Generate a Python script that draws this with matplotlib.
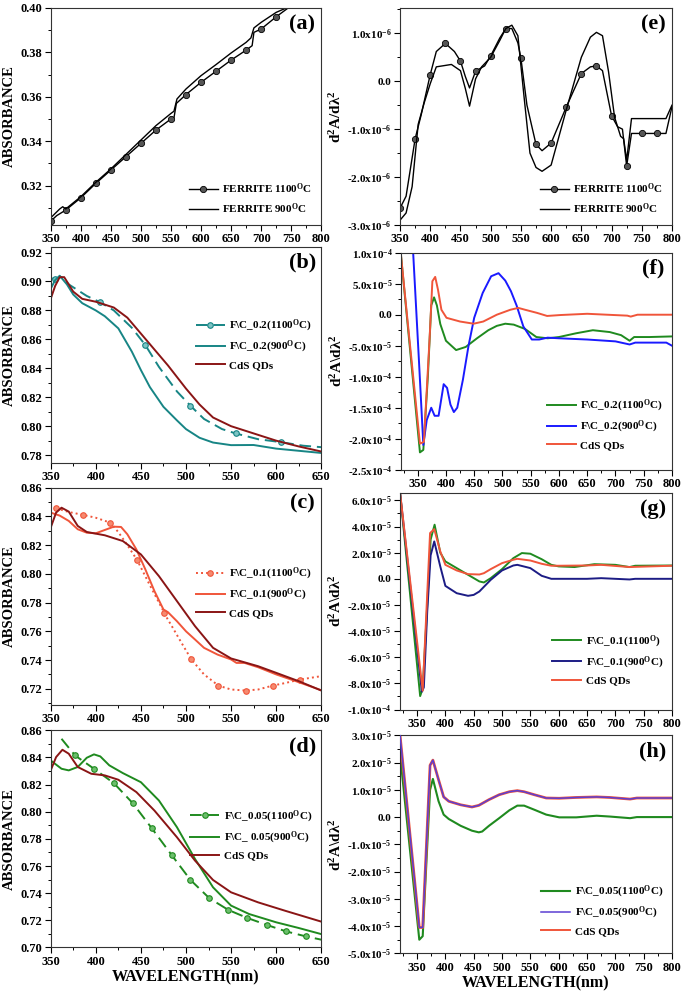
import numpy as np
import matplotlib
matplotlib.use('Agg')
import matplotlib.pyplot as plt
from matplotlib.ticker import MultipleLocator, FixedLocator, FixedFormatter, FormatStrFormatter

plt.rcParams['font.family'] = ['Liberation Serif', 'DejaVu Serif']
plt.rcParams['font.weight'] = 'bold'
plt.rcParams['axes.labelweight'] = 'bold'
plt.rcParams['mathtext.fontset'] = 'custom'
plt.rcParams['mathtext.rm'] = 'Liberation Serif:bold'
plt.rcParams['mathtext.bf'] = 'Liberation Serif:bold'
plt.rcParams['mathtext.it'] = 'Liberation Serif:bold'
plt.rcParams['mathtext.default'] = 'bf'

# ---------------- DATA ----------------
# (a) absorbance, ferrite
a_x_1100 = [350, 360, 375, 400, 425, 450, 475, 500, 525, 550, 555, 559, 575, 600, 625, 650, 675, 685, 688, 700, 725, 745]
a_y_1100 = [0.304, 0.3065, 0.309, 0.3145, 0.321, 0.327, 0.333, 0.339, 0.345, 0.350, 0.3505, 0.357, 0.361, 0.3665, 0.3715, 0.3765, 0.381, 0.383, 0.389, 0.3905, 0.396, 0.400]
a_mark_1100 = [350, 375, 400, 425, 450, 475, 500, 525, 550, 575, 600, 625, 650, 675, 700, 725]
a_x_900 = [350, 365, 370, 375, 400, 425, 450, 475, 500, 525, 550, 555, 560, 575, 600, 625, 650, 675, 683, 688, 700, 725, 742]
a_y_900 = [0.3055, 0.3095, 0.3105, 0.3095, 0.315, 0.3215, 0.3275, 0.334, 0.3405, 0.347, 0.3525, 0.3535, 0.359, 0.3635, 0.3695, 0.3745, 0.3797, 0.3845, 0.3865, 0.391, 0.3935, 0.398, 0.400]

# (e) second derivative, ferrite (units 1e-6)
e_x_1100 = [350, 360, 375, 385, 400, 410, 425, 440, 450, 458, 465, 475, 490, 500, 515, 525, 535, 545, 550, 560, 575, 585, 600, 625, 650, 665, 675, 685, 700, 710, 718, 725, 733, 750, 775, 790, 800]
e_y_1100 = [-2.65, -2.4, -1.2, -0.7, 0.14, 0.62, 0.79, 0.62, 0.42, 0.1, -0.14, 0.21, 0.32, 0.53, 0.9, 1.1, 1.1, 0.8, 0.48, -0.5, -1.32, -1.45, -1.29, -0.54, 0.16, 0.3, 0.32, 0.22, -0.72, -0.95, -1.0, -1.77, -1.09, -1.09, -1.09, -1.09, -0.53]
e_mark_1100 = [350, 375, 400, 425, 450, 475, 500, 525, 550, 575, 600, 625, 650, 675, 700, 725, 750, 775]
e_x_900 = [350, 360, 370, 380, 390, 400, 410, 425, 435, 450, 458, 465, 475, 485, 500, 515, 525, 535, 545, 555, 565, 575, 585, 600, 625, 650, 665, 675, 685, 695, 705, 715, 720, 725, 733, 790, 800]
e_y_900 = [-2.9, -2.75, -2.2, -0.9, -0.45, -0.05, 0.3, 0.33, 0.35, 0.22, -0.15, -0.52, 0.05, 0.3, 0.5, 0.85, 1.1, 1.17, 0.95, -0.3, -1.5, -1.8, -1.88, -1.75, -0.6, 0.5, 0.92, 1.02, 0.95, 0.2, -0.75, -1.15, -1.2, -1.65, -0.78, -0.78, -0.5]

# (b) absorbance, F\C_0.2
b_x_1100 = [350, 355, 362, 370, 380, 390, 405, 420, 440, 455, 470, 490, 505, 520, 540, 555, 580, 605, 630, 650]
b_y_1100 = [0.902, 0.902, 0.903, 0.898, 0.894, 0.890, 0.8856, 0.880, 0.868, 0.856, 0.841, 0.824, 0.8141, 0.805, 0.798, 0.795, 0.791, 0.789, 0.7865, 0.7855]
b_mark_1100 = [355, 405, 455, 505, 555, 605]
b_x_900 = [350, 355, 360, 368, 375, 385, 400, 410, 425, 440, 450, 460, 475, 490, 500, 515, 530, 550, 575, 600, 625, 650]
b_y_900 = [0.895, 0.901, 0.904, 0.898, 0.891, 0.885, 0.880, 0.876, 0.8676, 0.8515, 0.8388, 0.827, 0.8134, 0.804, 0.798, 0.792, 0.7887, 0.7869, 0.787, 0.7845, 0.783, 0.7815]
b_x_cds = [350, 355, 360, 365, 370, 375, 385, 400, 420, 435, 450, 465, 480, 490, 500, 515, 530, 550, 575, 600, 625, 650]
b_y_cds = [0.888, 0.897, 0.903, 0.903, 0.898, 0.893, 0.888, 0.886, 0.882, 0.875, 0.864, 0.853, 0.842, 0.834, 0.826, 0.815, 0.806, 0.800, 0.795, 0.790, 0.786, 0.7825]

# (f) second derivative, F\C_0.2 (units 1e-5)
f_x_1100 = [320, 354, 360, 368, 374, 379, 384, 390, 400, 418, 435, 455, 475, 490, 505, 520, 540, 560, 580, 600, 630, 660, 690, 710, 725, 733, 760, 800]
f_y_1100 = [10, -22.2, -21.8, -10, 1.5, 2.8, 1.5, -1.5, -4.2, -5.7, -5.2, -3.8, -2.5, -1.8, -1.45, -1.6, -2.3, -3.6, -3.8, -3.6, -3.0, -2.5, -2.8, -3.3, -4.2, -3.6, -3.6, -3.5]
f_x_900 = [338, 342, 352, 360, 366, 374, 380, 387, 396, 402, 408, 414, 420, 430, 440, 450, 465, 480, 493, 505, 515, 525, 537, 552, 565, 580, 600, 650, 700, 725, 735, 790, 800]
f_y_900 = [17, 10, -7, -21, -17, -15, -16.3, -16.3, -11.2, -11.8, -14.5, -15.7, -15, -10.5, -5, -0.5, 3.5, 6.2, 6.7, 5.5, 3.8, 1.5, -1.9, -4.0, -4.0, -3.7, -3.8, -4.0, -4.3, -4.8, -4.5, -4.5, -5.0]
f_x_cds = [320, 354, 361, 371, 376, 381, 386, 392, 401, 425, 449, 466, 490, 514, 528, 540, 561, 579, 603, 650, 685, 721, 727, 739, 800]
f_y_cds = [10, -20.8, -20.5, -4, 5.4, 6.1, 4.0, 0.8, -0.5, -1.1, -1.45, -1.1, 0, 0.8, 1.1, 0.8, 0.3, -0.2, -0.05, 0.15, 0, -0.15, -0.3, 0, 0]

# (c) absorbance, F\C_0.1
c_x_1100 = [356, 370, 386, 400, 416, 425, 435, 446, 460, 476, 480, 483, 495, 506, 520, 536, 550, 566, 580, 596, 610, 626, 650]
c_y_1100 = [0.8456, 0.843, 0.841, 0.839, 0.8356, 0.829, 0.820, 0.8094, 0.792, 0.7729, 0.768, 0.765, 0.752, 0.7404, 0.730, 0.7222, 0.7195, 0.7188, 0.7195, 0.7222, 0.724, 0.7264, 0.7288]
c_mark_1100 = [356, 386, 416, 446, 476, 506, 536, 566, 596, 626]
c_x_900 = [350, 360, 370, 380, 390, 400, 410, 420, 428, 435, 445, 455, 465, 475, 480, 490, 500, 510, 520, 535, 550, 556, 565, 580, 600, 625, 650]
c_y_900 = [0.8426, 0.8405, 0.8368, 0.831, 0.8286, 0.8282, 0.8305, 0.8328, 0.8326, 0.8275, 0.817, 0.803, 0.788, 0.7752, 0.7733, 0.767, 0.760, 0.7543, 0.7485, 0.7438, 0.7404, 0.738, 0.738, 0.735, 0.730, 0.7246, 0.719]
c_x_cds = [350, 356, 362, 370, 380, 390, 410, 430, 450, 470, 490, 510, 530, 550, 580, 600, 625, 650]
c_y_cds = [0.8321, 0.8426, 0.846, 0.8433, 0.8333, 0.8291, 0.8268, 0.8228, 0.8135, 0.7984, 0.781, 0.7636, 0.7485, 0.7411, 0.7357, 0.7311, 0.7253, 0.7188]

# (g) second derivative, F\C_0.1 (units 1e-5)
g_x_1100 = [320, 355.5, 360, 368, 374, 381, 391, 400, 420, 440, 460, 468, 480, 500, 520, 535, 550, 570, 587, 600, 628, 663, 700, 725, 735, 800]
g_y_1100 = [6.6, -8.97, -8.4, -2, 3.0, 4.14, 2.0, 1.33, 0.82, 0.31, -0.2, -0.28, 0.05, 0.74, 1.58, 1.97, 1.92, 1.5, 1.07, 0.95, 0.9, 1.12, 1.07, 0.9, 1.0, 1.02]
g_x_900 = [320, 358.5, 362, 368, 374, 380.4, 391, 400, 420, 440, 450, 460, 480, 500, 520, 527, 550, 570, 587, 600, 650, 675, 725, 735, 800]
g_y_900 = [6.6, -8.63, -8.3, -2.5, 1.8, 2.86, 0.95, -0.54, -1.1, -1.3, -1.23, -0.97, -0.08, 0.64, 1.02, 1.07, 0.82, 0.23, 0.0, 0.0, 0.0, 0.05, -0.05, 0.0, 0.0]
g_x_cds = [320, 360, 366, 373, 380.4, 391, 400, 420, 440, 460, 468, 480, 500, 520, 527, 550, 570, 587, 600, 650, 675, 725, 800]
g_y_cds = [6.6, -8.56, -3.0, 3.5, 3.8, 2.1, 1.07, 0.64, 0.36, 0.33, 0.43, 0.74, 1.2, 1.46, 1.53, 1.4, 1.15, 1.0, 1.0, 1.02, 1.07, 0.9, 1.0]

# (d) absorbance, F\C_0.05
d_x_1100 = [362, 377, 398, 420, 441, 462, 484, 505, 526, 547, 568, 590, 611, 633, 650]
d_y_1100 = [0.8538, 0.8415, 0.8317, 0.8211, 0.8063, 0.7879, 0.7682, 0.7497, 0.7362, 0.7276, 0.7217, 0.7165, 0.7118, 0.7081, 0.7057]
d_mark_1100 = [377, 398, 420, 441, 462, 484, 505, 526, 547, 568, 590, 611, 633]
d_x_900 = [350, 362, 370, 380, 390, 398, 405, 415, 430, 450, 470, 490, 510, 530, 550, 570, 600, 625, 650]
d_y_900 = [0.8378, 0.8317, 0.8305, 0.833, 0.8398, 0.8423, 0.8408, 0.8342, 0.8285, 0.8218, 0.8083, 0.7886, 0.7652, 0.7443, 0.7308, 0.7246, 0.7185, 0.7143, 0.7098]
d_x_cds = [350, 356, 363, 370, 380, 395, 410, 425, 445, 465, 490, 510, 530, 550, 580, 610, 650]
d_y_cds = [0.8305, 0.8403, 0.8457, 0.8428, 0.833, 0.828, 0.8268, 0.8236, 0.8145, 0.8009, 0.7812, 0.764, 0.7497, 0.7406, 0.7332, 0.727, 0.719]

# (h) second derivative, F\C_0.05 (units 1e-5)
h_x_1100 = [320, 354, 360, 373, 378, 388, 397, 406, 427, 447, 459, 465, 477, 495, 513, 527, 539, 557, 578, 601, 631, 667, 690, 726, 738, 800]
h_y_1100 = [2.3, -4.5, -4.37, 1.0, 1.4, 0.58, 0.09, -0.07, -0.32, -0.5, -0.56, -0.53, -0.32, -0.04, 0.25, 0.42, 0.42, 0.27, 0.09, -0.01, -0.01, 0.05, 0.02, -0.04, 0.0, 0.0]
h_x_900 = [320, 354, 360, 373, 378, 388, 397, 406, 427, 447, 459, 477, 495, 513, 527, 539, 557, 578, 601, 631, 667, 690, 726, 738, 800]
h_y_900 = [3.0, -4.05, -4.05, 1.9, 2.09, 1.37, 0.74, 0.58, 0.45, 0.37, 0.43, 0.64, 0.82, 0.93, 0.97, 0.93, 0.82, 0.7, 0.69, 0.72, 0.74, 0.72, 0.66, 0.7, 0.7]
h_x_cds = [320, 354, 360, 373, 378, 388, 397, 406, 427, 447, 459, 477, 495, 513, 527, 539, 557, 578, 601, 631, 667, 690, 726, 738, 800]
h_y_cds = [3.0, -4.05, -4.05, 1.9, 2.09, 1.37, 0.74, 0.58, 0.45, 0.37, 0.43, 0.64, 0.82, 0.93, 0.97, 0.93, 0.82, 0.7, 0.69, 0.72, 0.74, 0.72, 0.66, 0.7, 0.7]

# tick labels
e_ytick_vals = [-3e-6, -2e-6, -1e-6, 0.0, 1e-6]
e_ytick_labels = ['-3.0x10$^{-6}$', '-2.0x10$^{-6}$', '-1.0x10$^{-6}$', '0.0', '1.0x10$^{-6}$']
f_ytick_vals = [-2.5e-4, -2e-4, -1.5e-4, -1e-4, -5e-5, 0.0, 5e-5, 1e-4]
f_ytick_labels = ['-2.5x10$^{-4}$', '-2.0x10$^{-4}$', '-1.5x10$^{-4}$', '-1.0x10$^{-4}$', '-5.0x10$^{-5}$', '0.0', '5.0x10$^{-5}$', '1.0x10$^{-4}$']
g_ytick_vals = [-1e-4, -8e-5, -6e-5, -4e-5, -2e-5, 0.0, 2e-5, 4e-5, 6e-5]
g_ytick_labels = ['-1.0x10$^{-4}$', '-8.0x10$^{-5}$', '-6.0x10$^{-5}$', '-4.0x10$^{-5}$', '-2.0x10$^{-5}$', '0.0', '2.0x10$^{-5}$', '4.0x10$^{-5}$', '6.0x10$^{-5}$']
h_ytick_vals = [-5e-5, -4e-5, -3e-5, -2e-5, -1e-5, 0.0, 1e-5, 2e-5, 3e-5]
h_ytick_labels = ['-5.0x10$^{-5}$', '-4.0x10$^{-5}$', '-3.0x10$^{-5}$', '-2.0x10$^{-5}$', '-1.0x10$^{-5}$', '0.0', '1.0x10$^{-5}$', '2.0x10$^{-5}$', '3.0x10$^{-5}$']

# ---------------- STYLE ----------------
TEAL = '#178585'
MAROON = '#8a1515'
ORANGE = '#f0553a'
GREEN = '#1f8a1f'
BLUE = '#1a1aff'
NAVY = '#1c1c85'
PURPLE = '#5b3fd2'
DEG = '$^{\\mathbf{O}}$'
TICK_FS = 9
SCI_FS = 8
LEG_FS = 8
LAB_FS = 10.5

fig = plt.figure(figsize=(6.85, 9.91), dpi=100)

pos = {
    'a': [0.074, 0.773, 0.395, 0.219],
    'e': [0.584, 0.773, 0.397, 0.219],
    'b': [0.074, 0.533, 0.395, 0.218],
    'f': [0.585, 0.526, 0.396, 0.219],
    'c': [0.074, 0.289, 0.395, 0.219],
    'g': [0.584, 0.284, 0.397, 0.219],
    'd': [0.074, 0.044, 0.395, 0.219],
    'h': [0.584, 0.038, 0.397, 0.220],
}


def idx(xs, marks):
    return [i for i, v in enumerate(xs) if v in set(marks)]


def style(ax, letter, xmaj, xmin, ymin_loc, yfs=TICK_FS):
    ax.tick_params(which='major', direction='out', length=4, width=0.8, labelsize=TICK_FS, pad=2)
    ax.tick_params(axis='y', which='major', labelsize=yfs)
    ax.tick_params(which='minor', direction='out', length=2, width=0.7)
    ax.xaxis.set_major_locator(MultipleLocator(xmaj))
    ax.xaxis.set_minor_locator(MultipleLocator(xmin))
    ax.yaxis.set_minor_locator(MultipleLocator(ymin_loc))
    for s in ax.spines.values():
        s.set_linewidth(0.8)
        s.set_color('#333333')
    for lab in ax.get_xticklabels() + ax.get_yticklabels():
        lab.set_fontweight('bold')
    ax.text(0.93, 0.925, '(%s)' % letter, transform=ax.transAxes, ha='center', va='center',
            fontsize=16, fontweight='bold')


def leg(ax, loc, anchor=None):
    kw = dict(loc=loc, frameon=False, fontsize=LEG_FS, handlelength=2.6, labelspacing=0.45,
              borderaxespad=0.4, handletextpad=0.4, numpoints=1)
    if anchor is not None:
        kw['bbox_to_anchor'] = anchor
    L = ax.legend(**kw)
    for t in L.get_texts():
        t.set_fontweight('bold')


def absorb_axes(ax):
    ax.set_ylabel('ABSORBANCE', fontsize=LAB_FS, fontweight='bold')
    ax.yaxis.set_label_coords(-0.128, 0.5)
    ax.yaxis.set_major_formatter(FormatStrFormatter('%.2f'))


def deriv_axes(ax, vals, labels, sep='\\'):
    ax.yaxis.set_major_locator(FixedLocator(vals))
    ax.yaxis.set_major_formatter(FixedFormatter(labels))
    ax.set_ylabel('d$^{\\mathbf{2}}$A' + sep + 'd\u03bb$^{\\mathbf{2}}$', fontsize=11, fontweight='bold')
    ax.yaxis.set_label_coords(-0.205, 0.5)


# (a)
ax = fig.add_axes(pos['a'])
ax.plot(a_x_1100, a_y_1100, color='black', lw=1.0, marker='o', ms=4.5, mfc='#555555', mec='black',
        mew=0.6, markevery=idx(a_x_1100, a_mark_1100), label='FERRITE 1100' + DEG + 'C')
ax.plot(a_x_900, a_y_900, color='black', lw=1.0, label='FERRITE 900' + DEG + 'C')
ax.set_xlim(350, 800)
ax.set_ylim(0.3023, 0.400)
ax.yaxis.set_major_locator(MultipleLocator(0.02))
absorb_axes(ax)
style(ax, 'a', 50, 25, 0.01)
leg(ax, 'lower right')

# (e)
ax = fig.add_axes(pos['e'])
ax.plot(e_x_1100, np.array(e_y_1100) * 1e-6, color='black', lw=1.0, marker='o', ms=4.5, mfc='#555555',
        mec='black', mew=0.6, markevery=idx(e_x_1100, e_mark_1100), label='FERRITE 1100' + DEG + 'C')
ax.plot(e_x_900, np.array(e_y_900) * 1e-6, color='black', lw=1.0, label='FERRITE 900' + DEG + 'C')
ax.set_xlim(350, 800)
ax.set_ylim(-3e-6, 1.53e-6)
deriv_axes(ax, e_ytick_vals, e_ytick_labels, sep='/')
style(ax, 'e', 50, 25, 0.5e-6, SCI_FS)
leg(ax, 'lower right')

# (b)
ax = fig.add_axes(pos['b'])
ax.plot(b_x_1100, b_y_1100, color=TEAL, lw=1.4, ls=(0, (6, 3)), marker='o', ms=4, mfc='#7cc4c4', mec=TEAL,
        mew=0.8, markevery=idx(b_x_1100, b_mark_1100), label='F\\C_0.2(1100' + DEG + 'C)')
ax.plot(b_x_900, b_y_900, color=TEAL, lw=1.4, label='F\\C_0.2(900' + DEG + 'C)')
ax.plot(b_x_cds, b_y_cds, color=MAROON, lw=1.4, label='CdS QDs')
ax.set_xlim(350, 650)
ax.set_ylim(0.7747, 0.924)
ax.yaxis.set_major_locator(MultipleLocator(0.02))
absorb_axes(ax)
style(ax, 'b', 50, 25, 0.01)
leg(ax, 'center right', (1.0, 0.55))

# (f)
ax = fig.add_axes(pos['f'])
ax.plot(f_x_1100, np.array(f_y_1100) * 1e-5, color=GREEN, lw=1.4, label='F\\C_0.2(1100' + DEG + 'C)')
ax.plot(f_x_900, np.array(f_y_900) * 1e-5, color=BLUE, lw=1.4, label='F\\C_0.2(900' + DEG + 'C)')
ax.plot(f_x_cds, np.array(f_y_cds) * 1e-5, color=ORANGE, lw=1.4, label='CdS QDs')
ax.set_xlim(320, 800)
ax.set_ylim(-2.5e-4, 1.0e-4)
deriv_axes(ax, f_ytick_vals, f_ytick_labels)
style(ax, 'f', 50, 25, 2.5e-5, SCI_FS)
leg(ax, 'lower right', (1.0, 0.05))

# (c)
ax = fig.add_axes(pos['c'])
ax.plot(c_x_1100, c_y_1100, color=ORANGE, lw=1.4, ls=(0, (1, 1.6)), marker='o', ms=4, mfc='#f58a70', mec=ORANGE,
        mew=0.8, markevery=idx(c_x_1100, c_mark_1100), label='F\\C_0.1(1100' + DEG + 'C)')
ax.plot(c_x_900, c_y_900, color=ORANGE, lw=1.4, label='F\\C_0.1(900' + DEG + 'C)')
ax.plot(c_x_cds, c_y_cds, color=MAROON, lw=1.4, label='CdS QDs')
ax.set_xlim(350, 650)
ax.set_ylim(0.709, 0.86)
ax.yaxis.set_major_locator(MultipleLocator(0.02))
absorb_axes(ax)
style(ax, 'c', 50, 25, 0.01)
leg(ax, 'center right', (1.0, 0.52))

# (g)
ax = fig.add_axes(pos['g'])
ax.plot(g_x_1100, np.array(g_y_1100) * 1e-5, color=GREEN, lw=1.4, label='F\\C_0.1(1100' + DEG + ')')
ax.plot(g_x_900, np.array(g_y_900) * 1e-5, color=NAVY, lw=1.4, label='F\\C_0.1(900' + DEG + 'C)')
ax.plot(g_x_cds, np.array(g_y_cds) * 1e-5, color=ORANGE, lw=1.4, label='CdS QDs')
ax.set_xlim(320, 800)
ax.set_ylim(-1e-4, 6.6e-5)
deriv_axes(ax, g_ytick_vals, g_ytick_labels)
style(ax, 'g', 50, 25, 1e-5, SCI_FS)
leg(ax, 'lower right', (1.0, 0.07))

# (d)
ax = fig.add_axes(pos['d'])
ax.plot(d_x_1100, d_y_1100, color=GREEN, lw=1.4, ls=(0, (6, 3)), marker='o', ms=4, mfc='#6cbf6c', mec=GREEN,
        mew=0.8, markevery=idx(d_x_1100, d_mark_1100), label='F\\C_0.05(1100' + DEG + 'C)')
ax.plot(d_x_900, d_y_900, color=GREEN, lw=1.4, label='F\\C_ 0.05(900' + DEG + 'C)')
ax.plot(d_x_cds, d_y_cds, color=MAROON, lw=1.4, label='CdS QDs')
ax.set_xlim(350, 650)
ax.set_ylim(0.70, 0.86)
ax.yaxis.set_major_locator(MultipleLocator(0.02))
absorb_axes(ax)
ax.set_xlabel('WAVELENGTH(nm)', fontsize=11.5, fontweight='bold', labelpad=1)
style(ax, 'd', 50, 25, 0.01)
leg(ax, 'center right', (1.0, 0.52))

# (h)
ax = fig.add_axes(pos['h'])
ax.plot(h_x_1100, np.array(h_y_1100) * 1e-5, color=GREEN, lw=1.5, label='F\\C_0.05(1100' + DEG + 'C)')
ax.plot(h_x_cds, np.array(h_y_cds) * 1e-5, color=ORANGE, lw=2.0, zorder=2)
ax.plot(h_x_900, np.array(h_y_900) * 1e-5, color=PURPLE, lw=1.1, zorder=3, label='F\\C_0.05(900' + DEG + 'C)')
ax.plot([], [], color=ORANGE, lw=1.4, label='CdS QDs')
ax.set_xlim(320, 800)
ax.set_ylim(-5e-5, 3e-5)
deriv_axes(ax, h_ytick_vals, h_ytick_labels)
ax.set_xlabel('WAVELENGTH(nm)', fontsize=11.5, fontweight='bold', labelpad=1)
style(ax, 'h', 50, 25, 0.5e-5, SCI_FS)
leg(ax, 'lower right', (1.0, 0.04))

fig.savefig('out.png', dpi=100)
